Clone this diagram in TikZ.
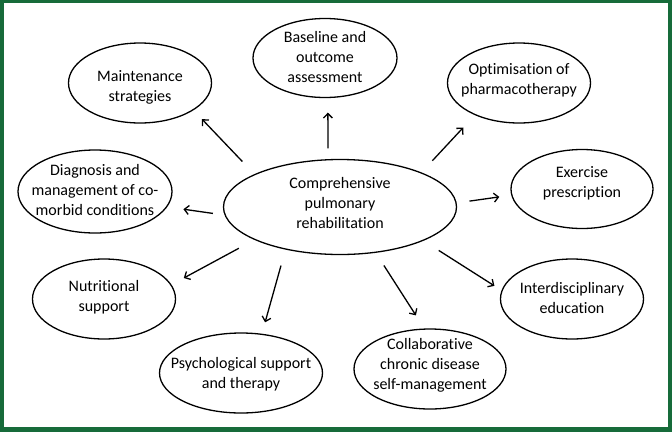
\documentclass[tikz,border=0pt]{standalone}
\usepackage{fontspec}
\setmainfont{Carlito}[Ligatures=NoCommon]
\usetikzlibrary{shapes.geometric,arrows.meta}
\definecolor{framegreen}{RGB}{23,107,58}
\tikzset{
	bubble/.style 2 args={ellipse, draw, line width=1.3pt, inner sep=0pt, minimum width=#1pt, minimum height=#2pt},
	txt/.style={font=\fontsize{16}{20}\selectfont, align=center, inner sep=0pt},
	arr/.style={line width=1.3pt, -{Straight Barb[length=4.5pt,width=9pt]}}
}

\begin{document}
\begin{tikzpicture}[x=1pt, y=-1pt]
			%%%%% START %%%%%
			
			\useasboundingbox (0, 0) rectangle (672, 432);
			\fill[framegreen] (0, 0) rectangle (672, 432);
			\fill[white] (4, 3) rectangle (668, 427);
			
			\node[bubble={233}{95}, label={[txt, yshift=4pt]center:Comprehensive\\pulmonary\\rehabilitation}] (comp) at (340, 207) {};
			
			\node[bubble={143}{80}, label={[txt, yshift=-4pt]center:Maintenance\\strategies}] (maint) at (140, 83) {};
			\node[bubble={144}{79}, label={[txt, yshift=1pt]center:Baseline and\\outcome\\assessment}] (base) at (325, 58) {};
			\node[bubble={143}{80}, label={[txt, yshift=2.5pt]center:Optimisation of\\pharmacotherapy}] (optim) at (519, 83) {};
			\node[bubble={142}{79}, label={[txt, yshift=6pt]center:Exercise\\prescription}] (exer) at (582, 189) {};
			\node[bubble={154}{83}, label={[txt, yshift=1.5pt]center:Diagnosis and\\management of co-\\morbid conditions}] (diag) at (95, 191.5) {};
			\node[bubble={143}{80}, label={[txt, yshift=2pt]center:Nutritional\\support}] (nutri) at (104, 299) {};
			\node[bubble={163}{80}, label={[txt, yshift=-1pt]center:Psychological support\\and therapy}] (psych) at (241, 373) {};
			\node[bubble={152}{80}, label={[txt, yshift=4pt]center:Collaborative\\chronic disease\\self-management}] (collab) at (430, 369) {};
			\node[bubble={143}{80}, label={[txt, yshift=1.5pt]center:Interdisciplinary\\education}] (inter) at (572, 299) {};
			
			\draw[arr, shorten <=17.4pt, shorten >=12.3pt] (comp.159) -- (maint.-27);
			\draw[arr, shorten <=10.8pt, shorten >=14.5pt] (comp.104) -- (base.-86);
			\draw[arr, shorten <=15.9pt, shorten >=16.9pt] (comp.23) -- (optim.-144);
			\draw[arr, shorten <=12.9pt, shorten >=12pt] (comp.2) -- (exer.185);
			\draw[arr, shorten <=18pt, shorten >=8.4pt] (comp.-22) -- (inter.173);
			\draw[arr, shorten <=15pt, shorten >=15.6pt] (comp.-52) -- (collab.98);
			\draw[arr, shorten <=16.6pt, shorten >=11.8pt] (comp.-142) -- (psych.62);
			\draw[arr, shorten <=17.7pt, shorten >=14pt] (comp.201) -- (nutri.12);
			\draw[arr, shorten <=11.7pt, shorten >=16.3pt] (comp.184) -- (diag.-12);
			
			%%%%% END %%%%%
\end{tikzpicture}
\end{document}
